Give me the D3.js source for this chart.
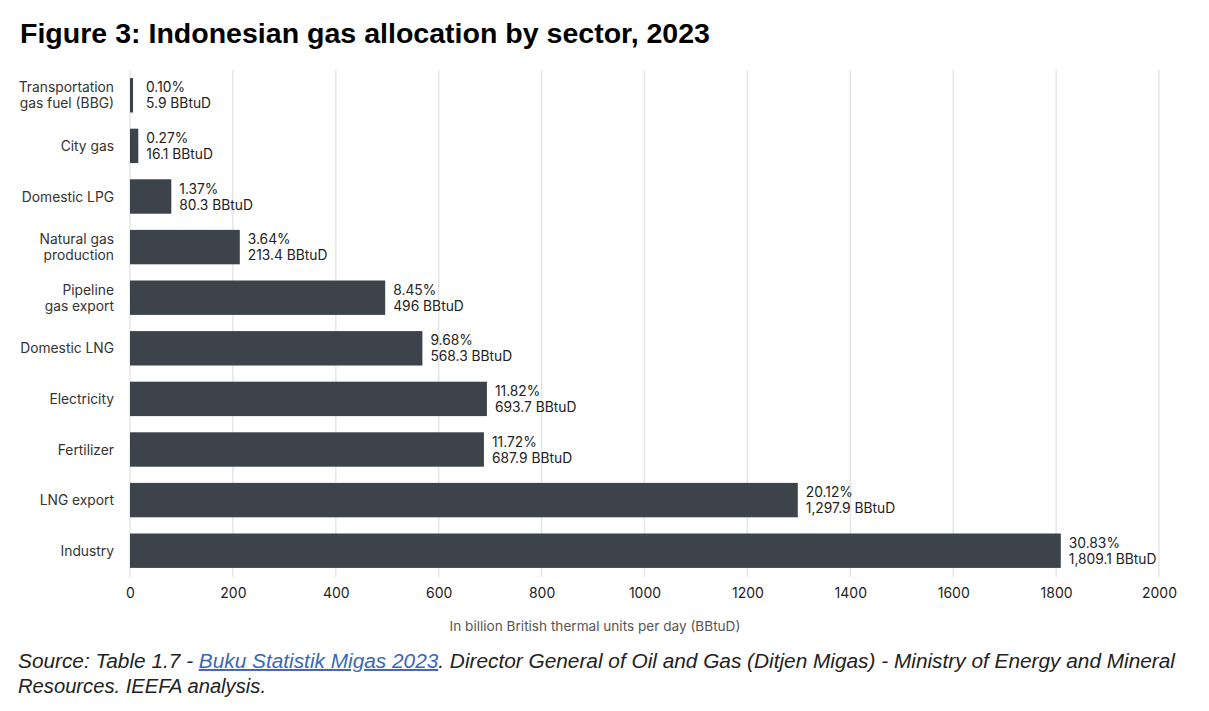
<!DOCTYPE html>
<html>
<head>
<meta charset="utf-8">
<script src="https://cdn.jsdelivr.net/npm/d3@7"></script>
<style>
  body { margin: 0; background: #fff; }
  svg { display: block; }
</style>
</head>
<body>
<svg id="chart" width="1209" height="711"></svg>
<script>
// sectors, top to bottom as in the figure
var sectors = [
    ['Transportation', 'gas fuel (BBG)'],
    ['City gas'],
    ['Domestic LPG'],
    ['Natural gas', 'production'],
    ['Pipeline', 'gas export'],
    ['Domestic LNG'],
    ['Electricity'],
    ['Fertilizer'],
    ['LNG export'],
    ['Industry']
];
var volumes = [5.9, 16.1, 80.3, 213.4, 496, 568.3, 693.7, 687.9, 1297.9, 1809.1];
var volumeLabels = ['5.9', '16.1', '80.3', '213.4', '496', '568.3', '693.7', '687.9', '1,297.9', '1,809.1'];
var shares = ['0.10%', '0.27%', '1.37%', '3.64%', '8.45%', '9.68%', '11.82%', '11.72%', '20.12%', '30.83%'];
var xTicks = [0, 200, 400, 600, 800, 1000, 1200, 1400, 1600, 1800, 2000];

var svg = d3.select('#chart');
var margin = {left: 130, right: 50, top: 70, bottom: 135};
var W = +svg.attr('width'), H = +svg.attr('height');

var x = d3.scaleLinear().domain([0, 2000]).range([margin.left, W - margin.right]);
var y = d3.scaleBand()
    .domain(d3.range(sectors.length))
    .range([margin.top, H - margin.bottom])
    .paddingInner(0.32)
    .paddingOuter(0.16);

var font = 'Inter, "Noto Sans", sans-serif';
var noteFont = '"Liberation Sans", Arial, sans-serif';

// title
svg.append('text')
    .attr('x', 20)
    .attr('y', 43)
    .attr('textLength', 690)
    .attr('lengthAdjust', 'spacingAndGlyphs')
    .style('font-family', noteFont)
    .style('font-weight', 'bold')
    .style('font-size', '27px')
    .style('fill', '#000')
    .text('Figure 3: Indonesian gas allocation by sector, 2023');

// grid
svg.append('g')
    .selectAll('line')
    .data(xTicks)
    .enter()
    .append('line')
    .attr('x1', function (d) { return x(d); })
    .attr('x2', function (d) { return x(d); })
    .attr('y1', margin.top)
    .attr('y2', H - margin.bottom + 1)
    .style('stroke', '#e6e6e6')
    .style('stroke-width', 1.5);

// x axis (labels only)
var xAxis = svg.append('g')
    .attr('transform', 'translate(0,' + (H - margin.bottom) + ')')
    .call(d3.axisBottom(x).tickValues(xTicks).tickSize(0).tickPadding(12).tickFormat(d3.format('d')));
xAxis.select('.domain').remove();
xAxis.selectAll('text')
    .style('font-family', font)
    .style('font-size', '14px')
    .style('fill', '#222');

svg.append('text')
    .attr('x', 595)
    .attr('y', 631)
    .attr('text-anchor', 'middle')
    .style('font-family', font)
    .style('font-size', '13.6px')
    .style('fill', '#555')
    .text('In billion British thermal units per day (BBtuD)');

// bars
svg.append('g')
    .selectAll('rect')
    .data(volumes)
    .enter()
    .append('rect')
    .attr('x', x(0))
    .attr('y', function (d, i) { return y(i); })
    .attr('width', function (d) { return x(d) - x(0); })
    .attr('height', y.bandwidth())
    .style('fill', '#3d434a');

// category labels
var cat = svg.append('g')
    .selectAll('text')
    .data(sectors)
    .enter()
    .append('text')
    .attr('text-anchor', 'end')
    .style('font-family', font)
    .style('font-size', '13.8px')
    .style('fill', '#333');
cat.each(function (lines, i) {
    var cy = y(i) + y.bandwidth() / 2;
    var t = d3.select(this);
    if (lines.length === 1) {
        t.append('tspan').attr('x', 114).attr('y', cy + 5).text(lines[0]);
    } else {
        t.append('tspan').attr('x', 114).attr('y', cy - 3).text(lines[0]);
        t.append('tspan').attr('x', 114).attr('y', cy + 13).text(lines[1]);
    }
});

// value labels
var vals = svg.append('g')
    .selectAll('text')
    .data(volumes)
    .enter()
    .append('text')
    .style('font-family', font)
    .style('font-size', '13.8px')
    .style('fill', '#222');
vals.each(function (d, i) {
    var cy = y(i) + y.bandwidth() / 2;
    var lx = Math.max(x(d) + 8, x(0) + 16);
    var t = d3.select(this);
    t.append('tspan').attr('x', lx).attr('y', cy - 3).text(shares[i]);
    t.append('tspan').attr('x', lx).attr('y', cy + 13).text(volumeLabels[i] + ' BBtuD');
});

// source note
var src = svg.append('text')
    .attr('x', 18)
    .attr('y', 668)
    .attr('textLength', 1157)
    .attr('lengthAdjust', 'spacingAndGlyphs')
    .style('font-family', noteFont)
    .style('font-style', 'italic')
    .style('font-size', '19.5px')
    .style('fill', '#222');
src.append('tspan').text('Source: Table 1.7 - ');
src.append('tspan')
    .style('fill', '#3b68b5')
    .style('text-decoration', 'underline')
    .text('Buku Statistik Migas 2023');
src.append('tspan').text('. Director General of Oil and Gas (Ditjen Migas) - Ministry of Energy and Mineral');
svg.append('text')
    .attr('x', 18)
    .attr('y', 693)
    .attr('textLength', 248)
    .attr('lengthAdjust', 'spacingAndGlyphs')
    .style('font-family', noteFont)
    .style('font-style', 'italic')
    .style('font-size', '19.5px')
    .style('fill', '#222')
    .text('Resources. IEEFA analysis.');
</script>
</body>
</html>
